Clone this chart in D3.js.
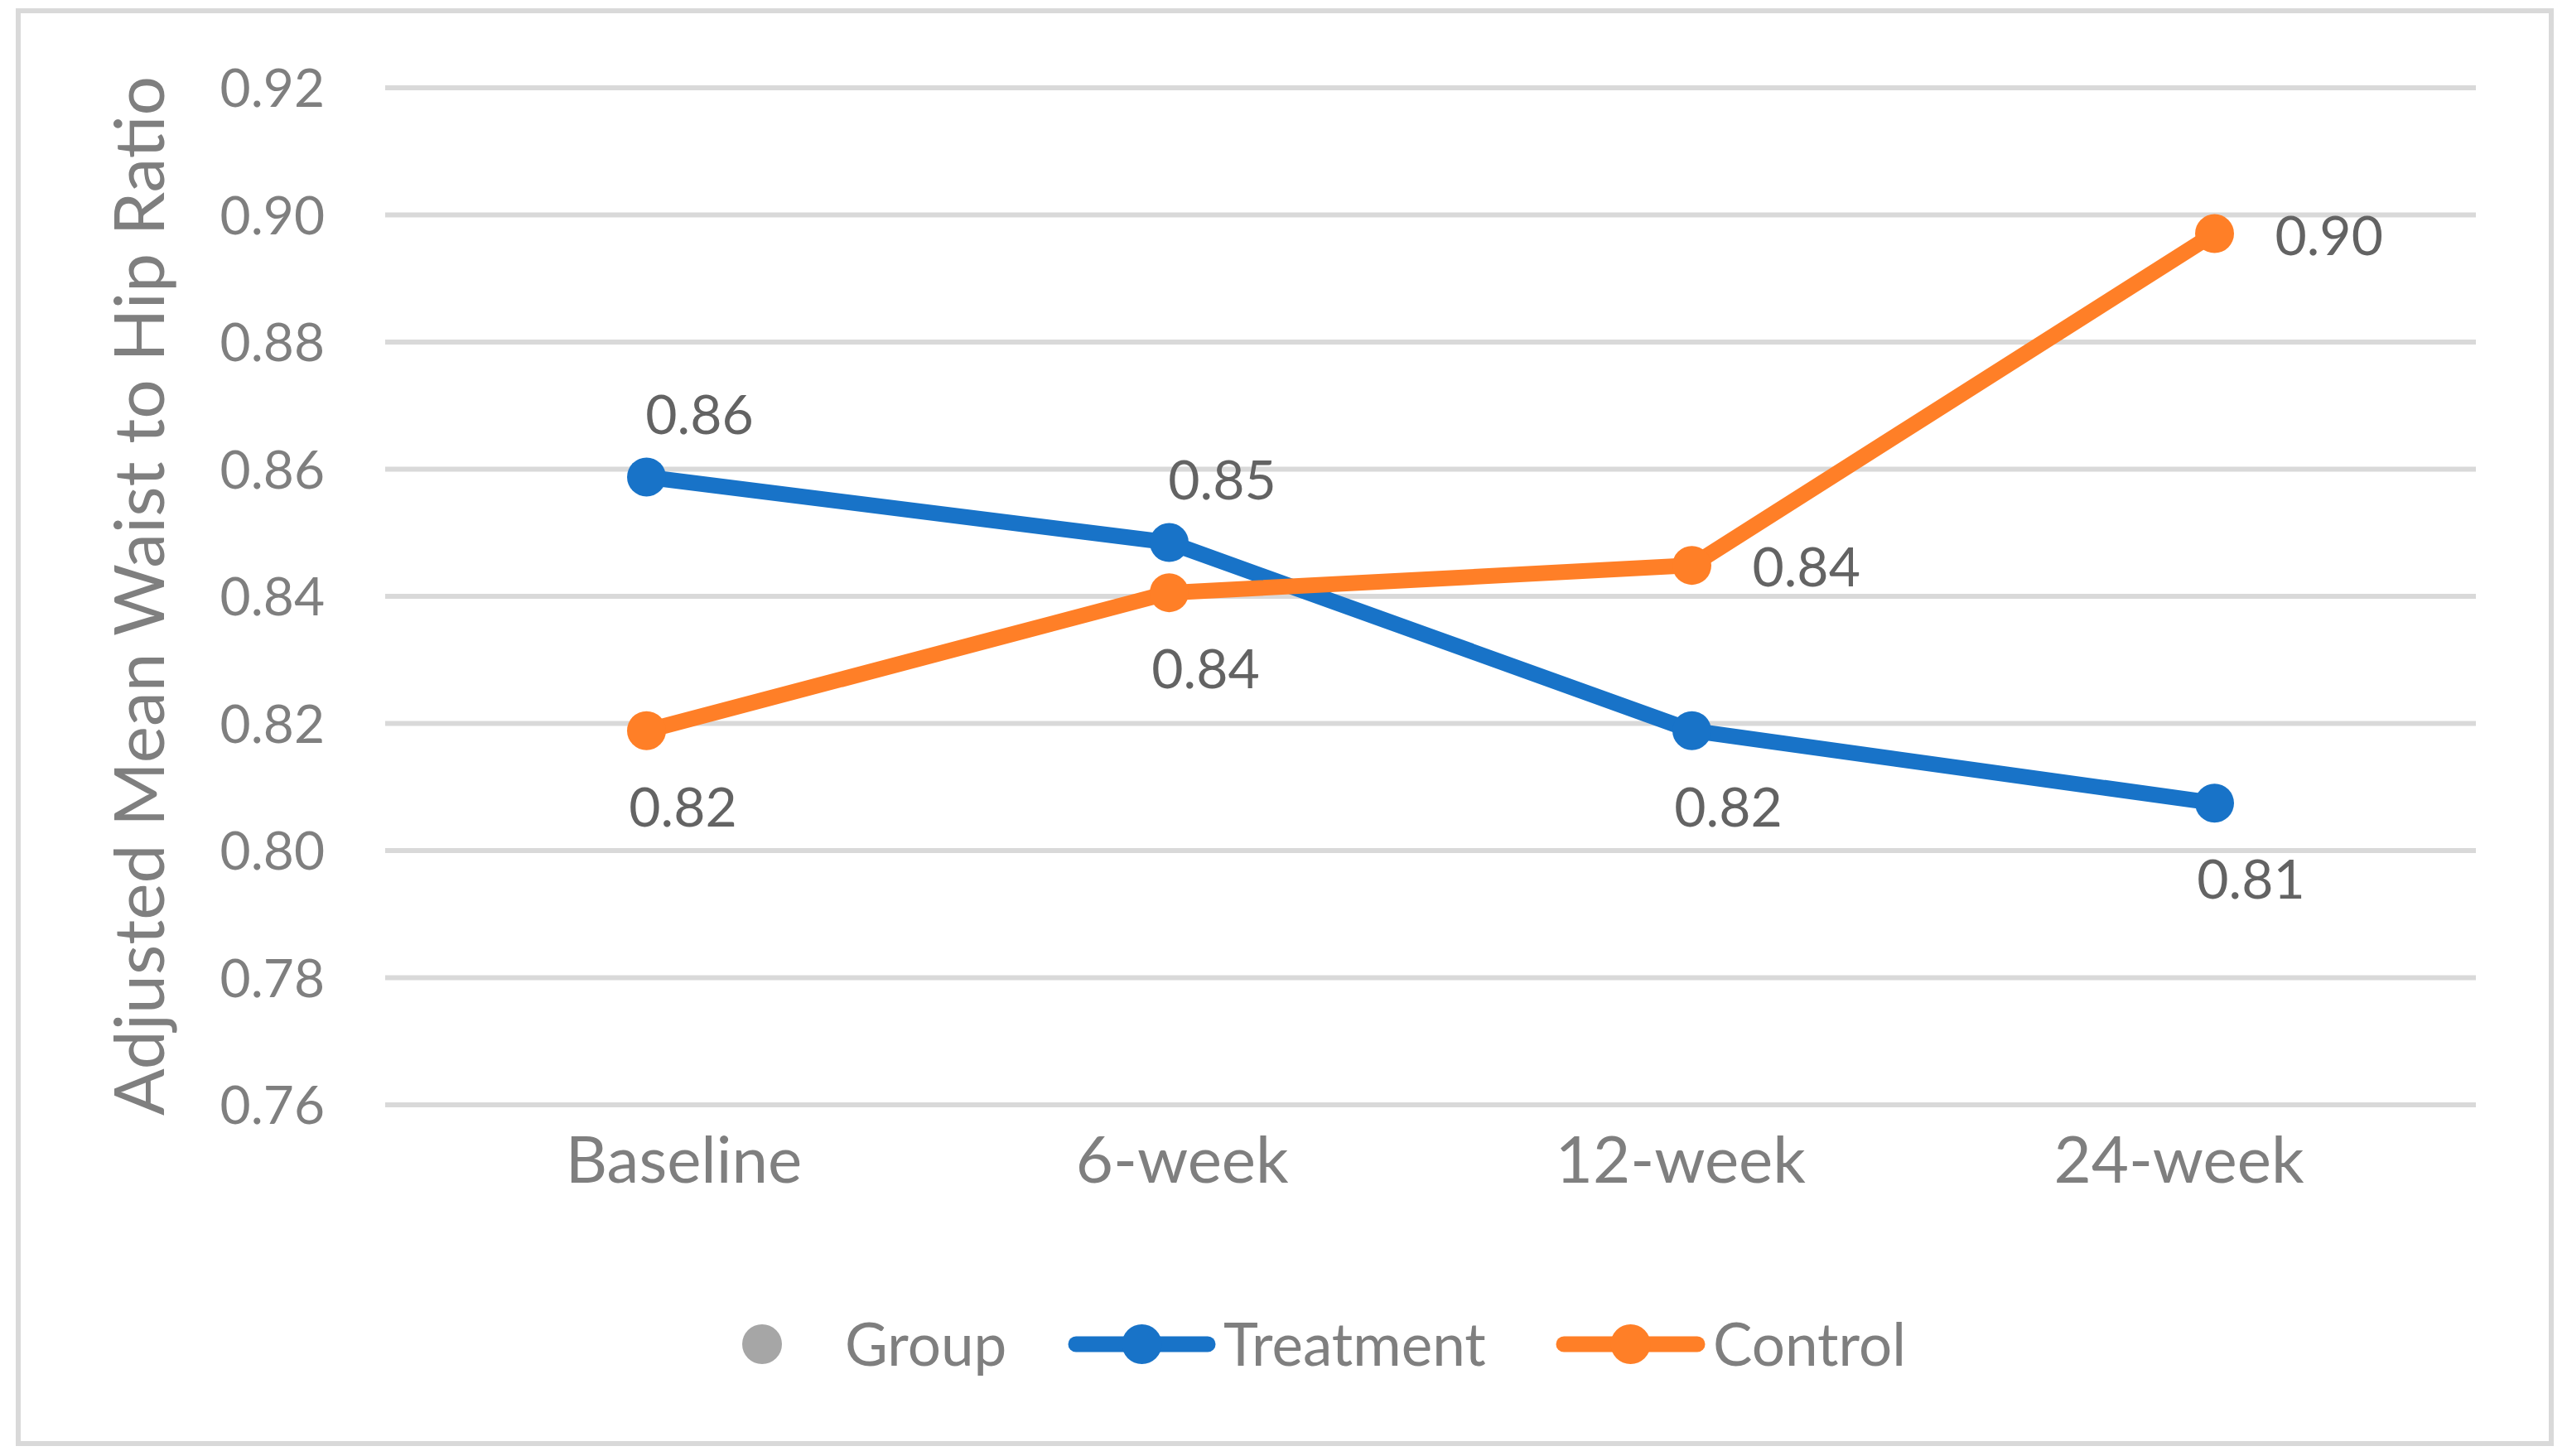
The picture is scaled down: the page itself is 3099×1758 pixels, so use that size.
<!DOCTYPE html>
<html lang="en">
<head>
    <meta charset="utf-8">
    <title>Adjusted Mean Waist to Hip Ratio</title>
    <script src="https://cdn.jsdelivr.net/npm/d3@7"></script>
    <style>
        html, body { margin: 0; padding: 0; background: #fff; }
        svg { display: block; font-family: Lato, "Open Sans", sans-serif; }
    </style>
</head>
<body>
<div id="chart"></div>
<script>
    // data
    var categories = ["Baseline", "6-week", "12-week", "24-week"];
    var treatment = [0.8587, 0.8484, 0.8188, 0.8074];
    var control = [0.8188, 0.8405, 0.8448, 0.8970];
    var treatmentLabels = ["0.86", "0.85", "0.82", "0.81"];
    var controlLabels = ["0.82", "0.84", "0.84", "0.90"];
    var treatmentLabelPos = ["above", "above", "below", "below"];
    var controlLabelPos = ["below", "below", "right", "right"];
    var yTicks = [0.76, 0.78, 0.80, 0.82, 0.84, 0.86, 0.88, 0.90, 0.92];
    var legendNames = ["Group", "Treatment", "Control"];
    var yTitle = "Adjusted Mean Waist to Hip Ratio";

    var W = 3099, H = 1758;
    var plot = {left: 465, right: 2989, top: 105.5, bottom: 1333.5};
    var blue = "#1873c8", orange = "#ff7f27", grid = "#d9d9d9", axisGrey = "#7f7f7f", labelGrey = "#636363";

    var svg = d3.select("#chart").append("svg").attr("width", W).attr("height", H);
    svg.append("rect").attr("width", W).attr("height", H).attr("fill", "#fff");
    svg.append("rect").attr("x", 22).attr("y", 13).attr("width", 3058).attr("height", 1730)
        .attr("fill", "none").attr("stroke", grid).attr("stroke-width", 6);

    var x = d3.scaleBand().domain(categories).range([plot.left, plot.right]);
    var y = d3.scaleLinear().domain([0.76, 0.92]).range([plot.bottom, plot.top]);
    // category labels sit a bit tighter than the band centres in the original
    var xLab = d3.scalePoint().domain(categories).range([plot.left + 360, plot.right - 359]);

    // y axis + gridlines
    var yAxis = svg.append("g").attr("transform", "translate(" + plot.left + ",0)")
        .call(d3.axisLeft(y).tickValues(yTicks).tickFormat(d3.format(".2f"))
            .tickSize(-(plot.right - plot.left)).tickPadding(73));
    yAxis.select(".domain").remove();
    yAxis.selectAll(".tick line").attr("stroke", grid).attr("stroke-width", 6);
    yAxis.selectAll(".tick text").attr("fill", axisGrey).attr("font-size", 64)
        .attr("font-family", "Lato").attr("dy", "0.36em");

    // x axis labels
    var xAxis = svg.append("g").attr("transform", "translate(0," + plot.bottom + ")")
        .call(d3.axisBottom(xLab).tickSize(0).tickPadding(0));
    xAxis.select(".domain").remove();
    xAxis.selectAll(".tick text").attr("fill", axisGrey).attr("font-size", 78)
        .attr("font-family", "Lato").attr("dy", null).attr("y", 94);

    // y title
    svg.append("text").attr("transform", "translate(198," + ((plot.top + plot.bottom) / 2) + ") rotate(-90)")
        .attr("text-anchor", "middle").attr("fill", axisGrey).attr("font-size", 84).text(yTitle);

    var line = d3.line().x(function (d, i) { return x(categories[i]) + x.bandwidth() / 2; })
        .y(function (d) { return y(d); });

    function drawSeries(values, labels, pos, color) {
        var g = svg.append("g");
        g.append("path").datum(values).attr("d", line).attr("fill", "none")
            .attr("stroke", color).attr("stroke-width", 19).attr("stroke-linejoin", "round");
        g.selectAll("circle").data(values).enter().append("circle")
            .attr("cx", function (d, i) { return x(categories[i]) + x.bandwidth() / 2; })
            .attr("cy", function (d) { return y(d); })
            .attr("r", 23.5).attr("fill", color);
        g.selectAll("text").data(values).enter().append("text")
            .attr("x", function (d, i) {
                var cx = x(categories[i]) + x.bandwidth() / 2;
                return pos[i] == "right" ? cx + 73 : pos[i] == "above" ? cx + 64 : cx + 44;
            })
            .attr("y", function (d, i) {
                var cy = y(d);
                return pos[i] == "above" ? cy - 76 : pos[i] == "below" ? cy + 92 : cy + 2;
            })
            .attr("dy", "0.36em")
            .attr("text-anchor", function (d, i) { return pos[i] == "right" ? "start" : "middle"; })
            .attr("fill", labelGrey).attr("font-size", 66)
            .text(function (d, i) { return labels[i]; });
    }
    drawSeries(treatment, treatmentLabels, treatmentLabelPos, blue);
    drawSeries(control, controlLabels, controlLabelPos, orange);

    // legend
    var ly = 1623;
    var leg = svg.append("g");
    leg.append("circle").attr("cx", 920).attr("cy", ly).attr("r", 24).attr("fill", "#a6a6a6");
    leg.append("text").attr("x", 1020).attr("y", ly).attr("dy", "0.36em").attr("fill", axisGrey)
        .attr("font-size", 71).text(legendNames[0]);
    [[1290, 1467, blue, legendNames[1]], [1879, 2058, orange, legendNames[2]]].forEach(function (it) {
        leg.append("line").attr("x1", it[0] + 9).attr("x2", it[1] - 9).attr("y1", ly).attr("y2", ly)
            .attr("stroke", it[2]).attr("stroke-width", 19).attr("stroke-linecap", "round");
        leg.append("circle").attr("cx", (it[0] + it[1]) / 2).attr("cy", ly).attr("r", 24).attr("fill", it[2]);
        leg.append("text").attr("x", it[1] + 10).attr("y", ly).attr("dy", "0.36em").attr("fill", axisGrey)
            .attr("font-size", 71).text(it[3]);
    });
</script>
</body>
</html>
